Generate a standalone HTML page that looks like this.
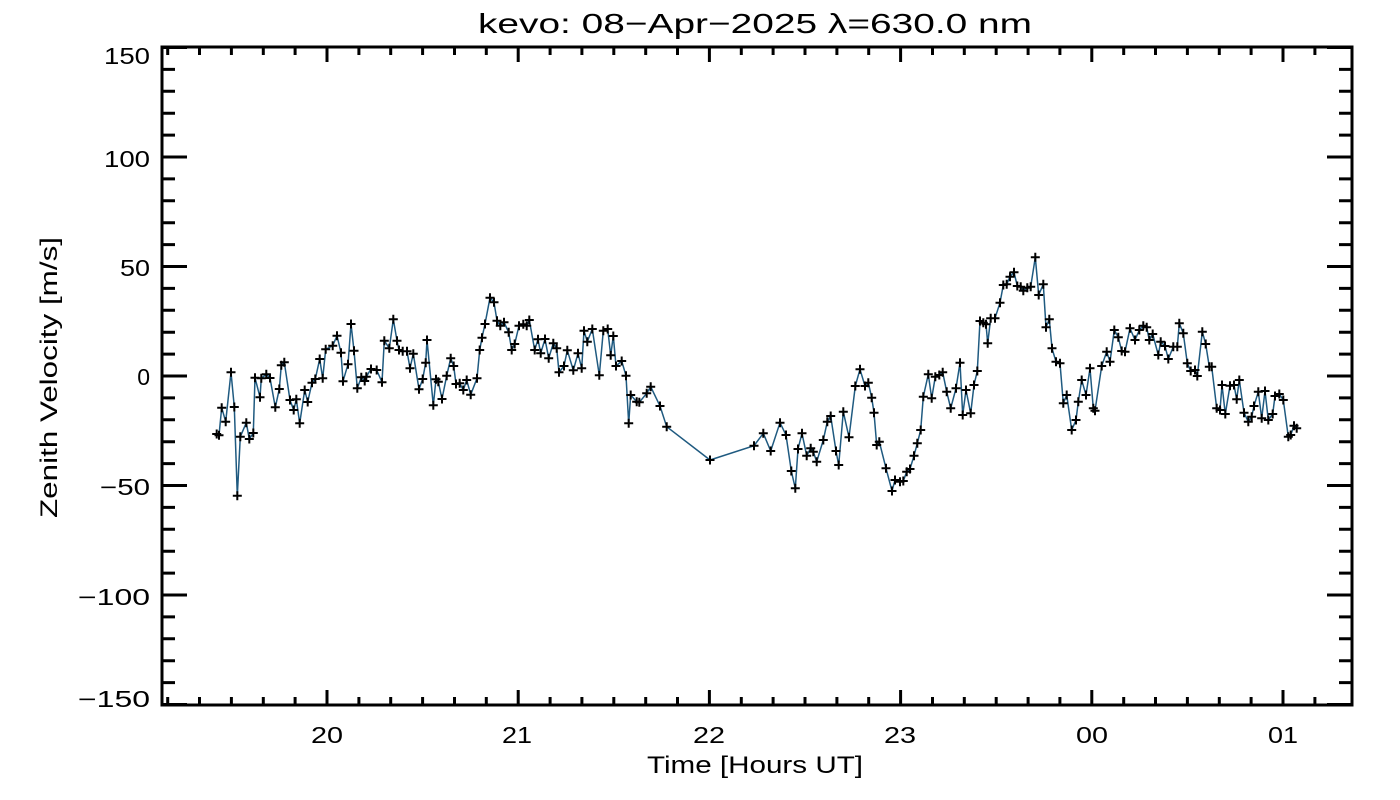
<!DOCTYPE html>
<html><head><meta charset="utf-8"><style>
html,body{margin:0;padding:0;background:#fff;}
svg{display:block;font-family:"Liberation Sans","DejaVu Sans",sans-serif;}
</style></head><body>
<svg id="s" width="1400" height="800" viewBox="0 0 1400 800" xmlns="http://www.w3.org/2000/svg">
<rect width="1400" height="800" fill="#fff"/>
<text x="478" y="33" font-size="28" textLength="554" lengthAdjust="spacingAndGlyphs" fill="#000">kevo: 08−Apr−2025 λ=630.0 nm</text>
<rect x="162" y="47" width="1190" height="658" fill="none" stroke="#000" stroke-width="3"/>
<g id="ticks" stroke="#000" stroke-width="3"></g>
<g font-size="23" fill="#000" text-anchor="end">
<text x="150" y="64" textLength="46" lengthAdjust="spacingAndGlyphs">150</text><text x="150" y="167" textLength="46" lengthAdjust="spacingAndGlyphs">100</text><text x="150" y="276" textLength="30" lengthAdjust="spacingAndGlyphs">50</text>
<text x="150" y="385">0</text><text x="150" y="495" textLength="50" lengthAdjust="spacingAndGlyphs">−50</text><text x="150" y="605" textLength="72" lengthAdjust="spacingAndGlyphs">−100</text><text x="150" y="707" textLength="72" lengthAdjust="spacingAndGlyphs">−150</text>
</g>
<g font-size="23" fill="#000" text-anchor="middle" lengthAdjust="spacingAndGlyphs">
<text x="327" y="743" textLength="32" lengthAdjust="spacingAndGlyphs">20</text><text x="517" y="743" textLength="30" lengthAdjust="spacingAndGlyphs">21</text><text x="709" y="743" textLength="32" lengthAdjust="spacingAndGlyphs">22</text>
<text x="900" y="743" textLength="32" lengthAdjust="spacingAndGlyphs">23</text><text x="1092" y="743" textLength="32" lengthAdjust="spacingAndGlyphs">00</text><text x="1283" y="743" textLength="30" lengthAdjust="spacingAndGlyphs">01</text>
</g>
<text x="647" y="773" font-size="24" textLength="216" lengthAdjust="spacingAndGlyphs">Time [Hours UT]</text>
<text transform="translate(57,518) rotate(-90)" font-size="24" textLength="281" lengthAdjust="spacingAndGlyphs">Zenith Velocity [m/s]</text>
<polyline id="ln" fill="none" stroke="#1f5a80" stroke-width="1.5"/>
<g id="mk" stroke="#000" stroke-width="2"></g>
</svg>
<script>
var z1=[170,462,177,466,185,383,197,425,213,277,223,381,232,647,241,470,259,428,268,477,280,459,285,293,300,352,304,295,319,283,330,294,346,382,358,327,364,256,373,247,390,360,401,390,409,358,419,430,434,330,443,366,456,308,466,297,479,237,488,295,497,208,518,197,531,167,543,218,549,304,564,253,573,132,582,212,592,325,604,292,614,303,619,290,633,267,650,270,666,307,673,182,688,205,700,118,711,182,717,210,728,214,741,214,750,265,760,221,777,328,788,297,797,248,801,180,820,376,828,298,835,305,846,357,860,287,872,235,881,258,888,312,899,310,910,330,920,300,932,344,951,295,959,210,966,173,975,132,990,53,1002,67,1011,122,1021,137,1032,127,1046,157,1055,210,1064,192,1077,137,1090,133,1100,137,1108,120,1124,210,1134,178,1142,220,1155,177,1166,235,1180,190,1190,205,1197,277,1212,258,1222,211,1240,271,1254,220,1265,265,1272,152,1282,185,1297,147,1318,286,1330,152,1343,147,1352,226,1360,168,1368,258,1385,243,1398,287,1406,430,1412,345,1430,365,1438,367];
var z2=[140,340,152,320,180,378,200,440,330,540,462,497,490,460,512,513,540,428,558,465,574,573,586,625,594,507,606,460,620,527,632,505,640,515,650,545,670,480,682,425,692,408,708,513,716,555,730,395,747,472,766,318,780,268,795,318,805,308,815,353,822,398,830,495,838,485,858,565,876,633,885,600,900,605,910,603,920,575,930,567,942,527,952,490,962,450,970,350,985,283,995,355,1006,290,1018,285,1028,277,1040,335,1052,385,1068,325,1080,248,1088,405,1098,330,1112,400,1122,315,1132,273,1140,123,1150,128,1158,133,1163,190,1172,115,1185,115,1200,68];
var z3=[190,135,200,133,210,110,222,97,232,138,242,140,250,152,262,143,272,140,286,52,296,165,310,133,318,262,328,238,336,325,348,365,360,370,370,490,380,465,395,570,408,540,415,485,425,420,438,465,450,385,460,505,465,512,485,378,500,335,510,365,523,270,535,292,545,333,555,335,570,265,585,300,598,270,610,257,620,262,628,300,638,282,655,345,662,305,675,318,685,357,700,320,712,320,718,250,730,280,742,370,752,393,765,390,772,408,787,275,797,312,808,380,815,380,830,505,840,510,846,435,856,522,870,437,882,435,890,478,898,420,912,518,925,545,935,530,942,498,955,455,965,535,975,453,985,540,998,522,1005,468,1018,462,1030,480,1045,590,1052,585,1062,557,1070,565];
var pts=[];
function add(a,ox,oy){for(var i=0;i<a.length;i+=2)pts.push([ox+a[i]/3,oy+a[i+1]/3]);}
add(z1,160,280);add(z2,600,280);add(z3,940,240);
var NS="http://www.w3.org/2000/svg";
document.getElementById('ln').setAttribute('points',pts.map(function(p){return p[0].toFixed(1)+','+p[1].toFixed(1)}).join(' '));
var mk=document.getElementById('mk'),d='';
pts.forEach(function(p){d+='M'+(p[0]-4.5).toFixed(1)+' '+p[1].toFixed(1)+'h9M'+p[0].toFixed(1)+' '+(p[1]-4.5).toFixed(1)+'v9';});
var pe=document.createElementNS(NS,'path');pe.setAttribute('d',d);mk.appendChild(pe);
var t='';
for(var v=-150;v<=150;v+=10){var y=376-v*2.19;var L=(v%50==0)?24:12;t+='M163 '+y.toFixed(1)+'h'+L+'M1351 '+y.toFixed(1)+'h-'+L;}
for(var k=-5;k<=31;k++){var x=327+k*191.2/6;if(x<164||x>1350)continue;var L=(k%6==0)?14:7;t+='M'+x.toFixed(1)+' 704v-'+L+'M'+x.toFixed(1)+' 48v'+L;}
var tp=document.createElementNS(NS,'path');tp.setAttribute('d',t);document.getElementById('ticks').appendChild(tp);
</script>
</body></html>
